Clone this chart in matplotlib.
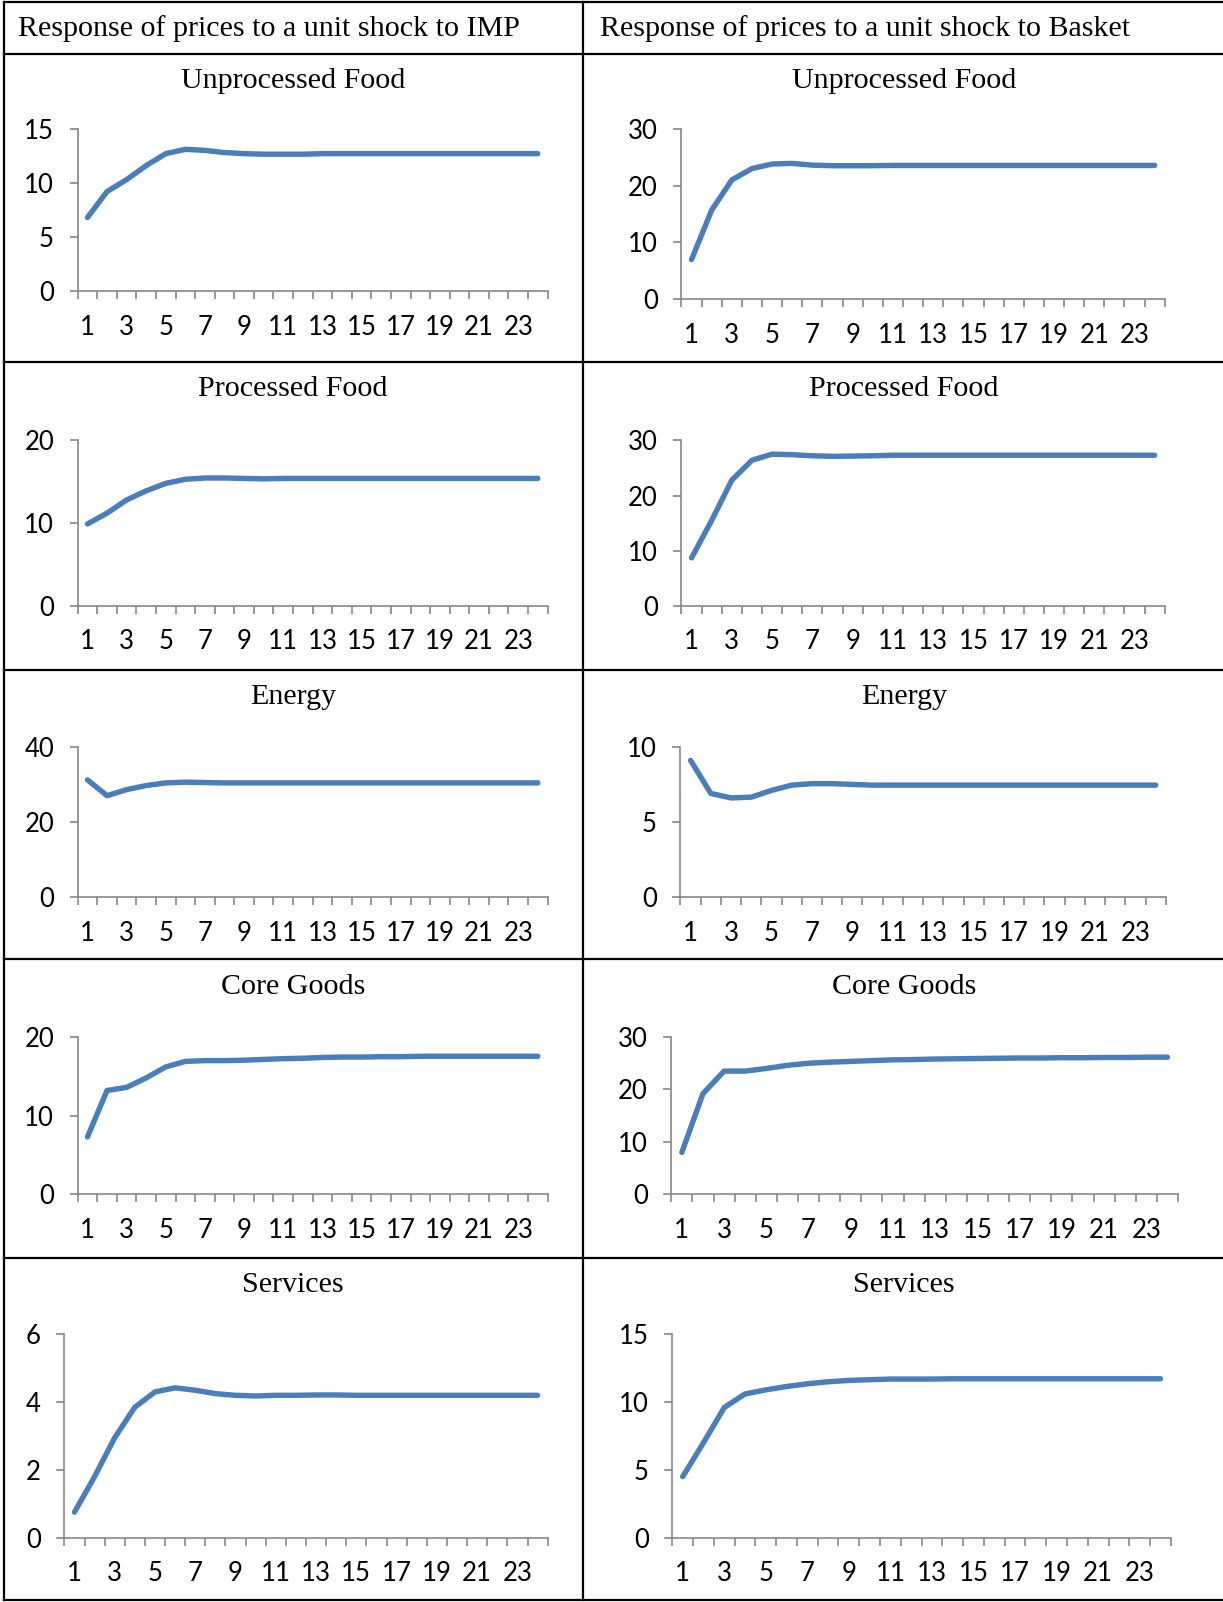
import numpy as np
import matplotlib
matplotlib.use("Agg")
import matplotlib.pyplot as plt
from matplotlib.lines import Line2D

# response values, periods 1..24
periods = np.arange(1, 25)

imp_unproc = [6.8, 9.2, 10.3, 11.6, 12.7, 13.1, 13.0, 12.8, 12.7, 12.65, 12.65, 12.65,
              12.7, 12.7, 12.7, 12.7, 12.7, 12.7, 12.7, 12.7, 12.7, 12.7, 12.7, 12.7]
bsk_unproc = [7.0, 15.7, 21.0, 23.0, 23.8, 23.9, 23.6, 23.5, 23.5, 23.5, 23.55, 23.55,
              23.55, 23.55, 23.55, 23.55, 23.55, 23.55, 23.55, 23.55, 23.55, 23.55, 23.55, 23.55]
imp_proc = [9.9, 11.2, 12.8, 13.9, 14.8, 15.3, 15.45, 15.45, 15.4, 15.35, 15.4, 15.4,
            15.4, 15.4, 15.4, 15.4, 15.4, 15.4, 15.4, 15.4, 15.4, 15.4, 15.4, 15.4]
bsk_proc = [8.7, 15.5, 22.8, 26.4, 27.5, 27.4, 27.2, 27.1, 27.15, 27.2, 27.3, 27.3,
            27.3, 27.3, 27.3, 27.3, 27.3, 27.3, 27.3, 27.3, 27.3, 27.3, 27.3, 27.3]
imp_energy = [31.2, 27.0, 28.6, 29.7, 30.4, 30.6, 30.5, 30.4, 30.4, 30.4, 30.4, 30.4,
              30.4, 30.4, 30.4, 30.4, 30.4, 30.4, 30.4, 30.4, 30.4, 30.4, 30.4, 30.4]
bsk_energy = [9.1, 6.9, 6.6, 6.65, 7.1, 7.45, 7.55, 7.55, 7.5, 7.45, 7.45, 7.45,
              7.45, 7.45, 7.45, 7.45, 7.45, 7.45, 7.45, 7.45, 7.45, 7.45, 7.45, 7.45]
imp_core = [7.3, 13.2, 13.6, 14.8, 16.2, 16.9, 17.0, 17.0, 17.05, 17.15, 17.25, 17.3,
            17.4, 17.45, 17.45, 17.5, 17.5, 17.55, 17.55, 17.55, 17.55, 17.55, 17.55, 17.55]
bsk_core = [8.0, 19.2, 23.5, 23.5, 24.0, 24.6, 25.0, 25.2, 25.35, 25.5, 25.65, 25.7,
            25.8, 25.85, 25.9, 25.95, 26.0, 26.0, 26.05, 26.05, 26.1, 26.1, 26.15, 26.15]
imp_serv = [0.75, 1.8, 2.95, 3.85, 4.3, 4.42, 4.35, 4.25, 4.2, 4.18, 4.2, 4.2,
            4.21, 4.21, 4.2, 4.2, 4.2, 4.2, 4.2, 4.2, 4.2, 4.2, 4.2, 4.2]
bsk_serv = [4.5, 7.0, 9.6, 10.6, 10.9, 11.15, 11.35, 11.5, 11.6, 11.65, 11.7, 11.7,
            11.7, 11.72, 11.72, 11.72, 11.72, 11.72, 11.72, 11.72, 11.72, 11.72, 11.72, 11.72]

titles = ["Unprocessed Food", "Processed Food", "Energy", "Core Goods", "Services"]
headers = ["Response of prices to a unit shock to IMP",
           "Response of prices to a unit shock to Basket"]

# (series, ymax, ystep, box in reference pixels: x0, x1, ytop, ybot)
panels = [
    (imp_unproc, 15, 5, (76, 536, 126, 285)), (bsk_unproc, 30, 10, (667, 1140, 126, 293)),
    (imp_proc, 20, 10, (76, 536, 431, 593)), (bsk_proc, 30, 10, (667, 1140, 431, 593)),
    (imp_energy, 40, 20, (76, 536, 731, 878)), (bsk_energy, 10, 5, (666, 1141, 731, 878)),
    (imp_core, 20, 10, (76, 536, 1015, 1169)), (bsk_core, 30, 10, (657, 1153, 1015, 1169)),
    (imp_serv, 6, 2, (63, 536, 1306, 1505)), (bsk_serv, 15, 5, (658, 1146, 1306, 1505)),
]
title_y = [79, 381, 682, 966, 1258]
row_lines = [2, 53, 354, 656, 939, 1231, 1566]

W, H = 1197.0, 1568.0
fx = lambda x: x / W
fy = lambda y: 1 - y / H

serif = "Liberation Serif"
sans = "Lato"
blue = "#4a7ebb"
grey = "#868686"

fig = plt.figure(figsize=(12.23, 16.02), dpi=100)

for s, ymax, step, (x0, x1, yt, yb) in panels:
    ax = fig.add_axes([fx(x0), fy(yb), (x1 - x0) / W, (yb - yt) / H])
    ax.plot(periods, s, color=blue, lw=3.9, solid_capstyle="round", solid_joinstyle="round")
    ax.set_xlim(0.5, 24.5)
    ax.set_ylim(0, ymax)
    ax.set_yticks(np.arange(0, ymax + 0.01, step))
    ax.set_xticks(np.arange(0.5, 25, 1))
    ax.set_xticklabels([])
    ax.set_xticks(np.arange(1, 24, 2), minor=True)
    ax.set_xticklabels([str(v) for v in range(1, 24, 2)], minor=True)
    for sp in ["top", "right"]:
        ax.spines[sp].set_visible(False)
    for sp in ["left", "bottom"]:
        ax.spines[sp].set_color(grey)
        ax.spines[sp].set_linewidth(1.2)
    ax.tick_params(axis="y", length=6, width=1.2, color=grey, pad=11, labelsize=18.5)
    ax.tick_params(axis="x", which="major", length=6, width=1.2, color=grey)
    ax.tick_params(axis="x", which="minor", length=0, pad=17, labelsize=18.5)
    for lab in ax.get_yticklabels() + ax.get_xticklabels(minor=True):
        lab.set_fontfamily(sans)
        lab.set_color("black")

# table grid and text
for y in row_lines:
    fig.add_artist(Line2D([fx(4), 1], [fy(y), fy(y)], color="black", lw=1.6))
fig.add_artist(Line2D([fx(4), fx(4)], [fy(2), fy(1566)], color="black", lw=1.6))
fig.add_artist(Line2D([fx(571), fx(571)], [fy(2), fy(1566)], color="black", lw=1.6))

fig.text(fx(18), fy(28), headers[0], family=serif, fontsize=21.6, va="center", ha="left")
fig.text(fx(587), fy(28), headers[1], family=serif, fontsize=21.6, va="center", ha="left")
for t, y in zip(titles, title_y):
    fig.text(fx(287), fy(y), t, family=serif, fontsize=21.6, va="center", ha="center")
    fig.text(fx(885), fy(y), t, family=serif, fontsize=21.6, va="center", ha="center")

fig.savefig("out.png", dpi=100, facecolor="white")
